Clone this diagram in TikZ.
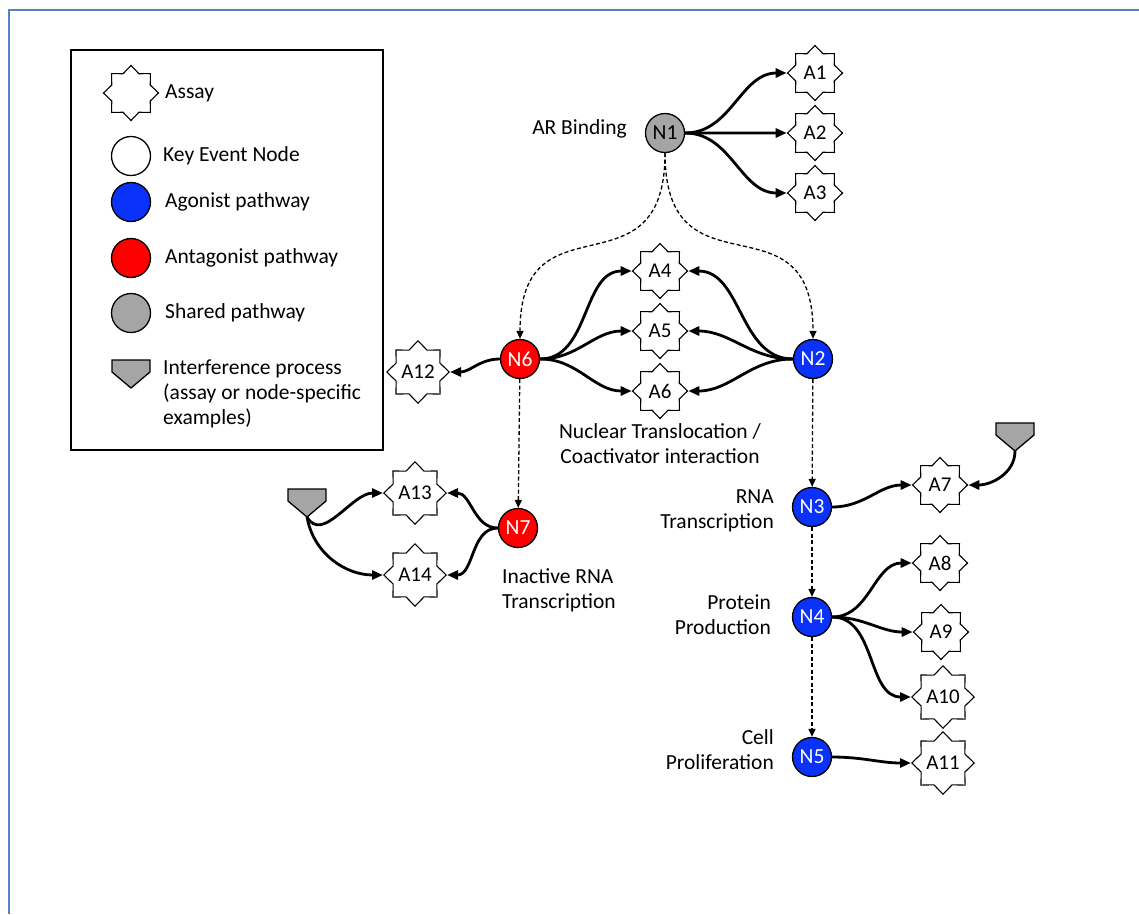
\documentclass[tikz,border=0pt]{standalone}
\usepackage{fontspec}
\setmainfont{Carlito}
\usetikzlibrary{shapes.geometric,arrows.meta}
\definecolor{nblue}{RGB}{10,50,250}
\definecolor{nred}{RGB}{255,0,0}
\definecolor{ngray}{RGB}{165,165,165}
\definecolor{frameblue}{RGB}{84,130,196}
\begin{document}
\begin{tikzpicture}[x=1pt,y=-1pt,
  txt/.style={font=\fontsize{21.5}{25}\selectfont, inner sep=0pt},
  keynode/.style={circle, draw, line width=1.3pt, minimum size=39pt, inner sep=0pt, font=\fontsize{21.5}{25}\selectfont},
  agon/.style={keynode, fill=nblue, text=white},
  antag/.style={keynode, fill=nred, text=white},
  shared/.style={keynode, fill=ngray},
  assay/.style={star, star points=8, star point ratio=1.32, draw, line width=1.1pt, minimum size=55pt, inner sep=0pt, fill=white, font=\fontsize{21}{25}\selectfont},
  link/.style={line width=2.8pt, -{Triangle[length=11pt,width=9pt]}},
  flow/.style={line width=1.3pt, dash pattern=on 4pt off 2.5pt, -{Triangle[length=8pt,width=7pt]}},
  interf/.pic={\draw[fill=ngray, line width=1.3pt] (-19,0) -- (19,0) -- (19,12) -- (0,28) -- (-19,12) -- cycle;
               \coordinate (-tip) at (0,28);}
]
\useasboundingbox (0,0) rectangle (1139,914);
% frame
\draw[frameblue, line width=2pt] (9,914) -- (9,10) -- (1139,10);

% legend
\draw[line width=1.5pt] (71,50) rectangle (383,450);
\node[assay] (lA) at (131,93) {};
\node[keynode] (lK) at (131,156) {};
\node[agon] (lB) at (131,202) {};
\node[antag] (lR) at (131,258) {};
\node[shared] (lG) at (131,313) {};
\pic (lI) at (131,360) {interf};
\node[txt, anchor=west] (tA) at (165,93) {Assay};
\node[txt, anchor=west] (tK) at (163,156) {Key Event Node};
\node[txt, anchor=west] (tB) at (165,202) {Agonist pathway};
\node[txt, anchor=west] (tR) at (165,258) {Antagonist pathway};
\node[txt, anchor=west] (tG) at (165,313) {Shared pathway};
\node[txt, anchor=north west, align=left] (tI) at (163,360) {Interference process\\(assay or node-specific\\examples)};

% key event nodes
\node[shared] (N1) at (665,133) {N1};
\node[agon] (N2) at (813,359) {N2};
\node[agon] (N3) at (812,507) {N3};
\node[agon] (N4) at (812,617) {N4};
\node[agon] (N5) at (812,757) {N5};
\node[antag] (N6) at (520,359) {N6};
\node[antag] (N7) at (518,528) {N7};

% assays
\node[assay] (A1) at (815,73) {A1};
\node[assay] (A2) at (815,133) {A2};
\node[assay] (A3) at (815,193) {A3};
\node[assay] (A4) at (660,271) {A4};
\node[assay] (A5) at (660,331) {A5};
\node[assay] (A6) at (660,391) {A6};
\node[assay] (A7) at (940,485) {A7};
\node[assay] (A8) at (940,563) {A8};
\node[assay] (A9) at (941,632) {A9};
\node[assay] (A10) at (943,697) {A10};
\node[assay] (A11) at (943,763) {A11};
\node[assay] (A12) at (418,372) {A12};
\node[assay] (A13) at (415,493) {A13};
\node[assay] (A14) at (415,575) {A14};

% interference processes
\pic (iL) at (307,489) {interf};
\pic (iR) at (1015,423) {interf};

% labels
\node[txt, anchor=east] (lN1) at (627,129) {AR Binding};
\node[txt, align=center] (lN2) at (660,444) {Nuclear Translocation /\\Coactivator interaction};
\node[txt, anchor=east, align=right] (lN3) at (774,511) {RNA\\Transcription};
\node[txt, anchor=east, align=right] (lN4) at (771,615) {Protein\\Production};
\node[txt, anchor=east, align=right] (lN5) at (774,750) {Cell\\Proliferation};
\node[txt, anchor=west, align=left] (lN7) at (502,590) {Inactive RNA\\Transcription};

% dashed pathway
\draw[flow] (N1.south) to[out=-90,in=90,looseness=1.6] (N6.north);
\draw[flow] (N1.south) to[out=-90,in=90,looseness=1.6] (N2.north);
\draw[flow] (N6) -- (N7);
\draw[flow] (N2) -- (N3);
\draw[flow] (N3) -- (N4);
\draw[flow] (N4) -- (N5);

% assay links
\draw[link] (N1.east) to[out=0,in=180] (A1.west);
\draw[link] (N1.east) -- (A2.west);
\draw[link] (N1.east) to[out=0,in=180] (A3.west);
\draw[link] (N6.east) to[out=0,in=180] (A4.west);
\draw[link] (N6.east) to[out=0,in=180] (A5.west);
\draw[link] (N6.east) to[out=0,in=180] (A6.west);
\draw[link] (N2.west) to[out=180,in=0] (A4.east);
\draw[link] (N2.west) to[out=180,in=0] (A5.east);
\draw[link] (N2.west) to[out=180,in=0] (A6.east);
\draw[link] (N6.west) to[out=180,in=0] (A12.east);
\draw[link] (N7.west) to[out=180,in=0] (A13.east);
\draw[link] (N7.west) to[out=180,in=0] (A14.east);
\draw[link] (iL-tip) to[out=-60,in=180] (A13.west);
\draw[link] (iL-tip) to[out=-80,in=180] (A14.west);
\draw[link] (N3.east) to[out=0,in=180] (A7.west);
\draw[link] (iR-tip) to[out=-90,in=0] (A7.east);
\draw[link] (N4.east) to[out=0,in=180] (A8.west);
\draw[link] (N4.east) to[out=0,in=180] (A9.west);
\draw[link] (N4.east) to[out=0,in=180] (A10.west);
\draw[link] (N5.east) to[out=0,in=180] (A11.west);
\end{tikzpicture}
\end{document}
